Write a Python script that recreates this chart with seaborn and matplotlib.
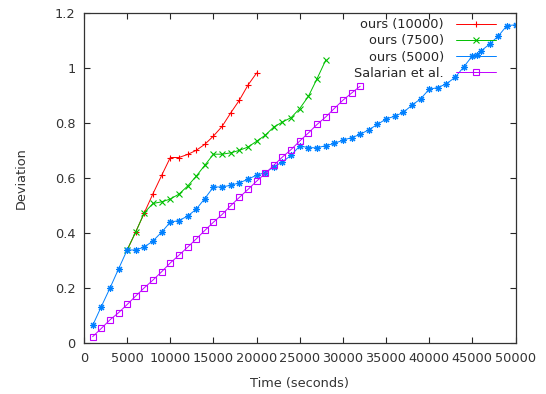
import pandas as pd
import seaborn as sns
import matplotlib.pyplot as plt

# valores
t_10000 = [5000, 6000, 7000, 8000, 9000, 10000, 11000, 12000, 13000, 14000,
           15000, 16000, 17000, 18000, 19000, 20000]
dev_10000 = [0.339, 0.405, 0.475, 0.544, 0.610, 0.675, 0.675, 0.686, 0.701, 0.723,
             0.753, 0.788, 0.837, 0.883, 0.938, 0.982]

t_7500 = [5000, 6000, 7000, 8000, 9000, 10000, 11000, 12000, 13000, 14000,
          15000, 16000, 17000, 18000, 19000, 20000, 21000, 22000, 23000, 24000,
          25000, 26000, 27000, 28000]
dev_7500 = [0.339, 0.405, 0.475, 0.508, 0.514, 0.524, 0.542, 0.571, 0.607, 0.647,
            0.687, 0.687, 0.692, 0.701, 0.713, 0.734, 0.756, 0.786, 0.804, 0.820,
            0.853, 0.897, 0.961, 1.028]

t_5000 = [1000, 2000, 3000, 4000, 5000, 6000, 7000, 8000, 9000, 10000,
          11000, 12000, 13000, 14000, 15000, 16000, 17000, 18000, 19000, 20000,
          21000, 22000, 23000, 24000, 25000, 26000, 27000, 28000, 29000, 30000,
          31000, 32000, 33000, 34000, 35000, 36000, 37000, 38000, 39000, 40000,
          41000, 42000, 43000, 44000, 45000, 45500, 46000, 47000, 48000, 49000, 50000]
dev_5000 = [0.065, 0.133, 0.200, 0.270, 0.339, 0.339, 0.350, 0.372, 0.404, 0.440,
            0.446, 0.462, 0.487, 0.526, 0.568, 0.568, 0.574, 0.583, 0.596, 0.611,
            0.620, 0.641, 0.659, 0.683, 0.717, 0.711, 0.710, 0.718, 0.726, 0.738,
            0.747, 0.759, 0.776, 0.795, 0.815, 0.825, 0.839, 0.865, 0.888, 0.923,
            0.929, 0.943, 0.966, 1.004, 1.044, 1.046, 1.062, 1.087, 1.116, 1.154, 1.157]

t_sal = [1000, 2000, 3000, 4000, 5000, 6000, 7000, 8000, 9000, 10000,
         11000, 12000, 13000, 14000, 15000, 16000, 17000, 18000, 19000, 20000,
         21000, 22000, 23000, 24000, 25000, 26000, 27000, 28000, 29000, 30000,
         31000, 32000]
dev_sal = [0.024, 0.054, 0.085, 0.111, 0.141, 0.172, 0.202, 0.230, 0.260, 0.292,
           0.320, 0.349, 0.379, 0.410, 0.440, 0.468, 0.500, 0.530, 0.559, 0.589,
           0.617, 0.647, 0.677, 0.704, 0.735, 0.764, 0.795, 0.822, 0.853, 0.883,
           0.909, 0.934]

series = [
    ('ours (10000)', t_10000, dev_10000, '#ff0000', '+', 4.8),
    ('ours (7500)', t_7500, dev_7500, '#00c000', 'x', 4.2),
    ('ours (5000)', t_5000, dev_5000, '#0080ff', (8, 2, 0), 5.0),
    ('Salarian et al.', t_sal, dev_sal, '#c000ff', 's', 3.9),
]

sns.set_style('ticks')
plt.rcParams['font.family'] = ['DejaVu Sans']

fig = plt.figure(figsize=(5.46, 3.94), dpi=100)
ax = fig.add_axes([84/546, 1 - 343.3/394, 431.5/546, 330.3/394])

for nome, t, d, cor, mk, ms in series:
    df = pd.DataFrame({'t': t, 'd': d})
    sns.lineplot(data=df, x='t', y='d', ax=ax, color=cor, marker=mk, label=nome,
                 linewidth=0.7, markersize=ms, markeredgewidth=0.8,
                 markerfacecolor='none' if mk == 's' else cor, markeredgecolor=cor,
                 estimator=None, sort=False)

ax.set_xlim(0, 50000)
ax.set_ylim(0, 1.2)
ax.set_xticks(range(0, 50001, 5000))
ax.set_yticks([0, 0.2, 0.4, 0.6, 0.8, 1.0, 1.2])
ax.set_yticklabels(['0', '0.2', '0.4', '0.6', '0.8', '1', '1.2'])
ax.tick_params(direction='in', length=4, width=0.8, top=True, right=True,
               labelsize=9.3, labelcolor='#333333', pad=6)
for s in ax.spines.values():
    s.set_linewidth(0.9)
    s.set_color('#333333')
ax.set_xlabel('Time (seconds)', fontsize=9.3, color='#333333', labelpad=9)
ax.set_ylabel('Deviation', fontsize=9.3, color='#333333', labelpad=20)

leg = ax.legend(loc='upper right', bbox_to_anchor=(0.957, 0.988), frameon=False,
                markerfirst=False, fontsize=9.3, handlelength=3.1, handletextpad=0.9,
                labelspacing=0.25, borderaxespad=0, borderpad=0.1, numpoints=1)
# na legenda original a curva (5000) aparece só com a linha
leg.get_lines()[2].set_marker('None')

fig.savefig('out.png', dpi=100)
